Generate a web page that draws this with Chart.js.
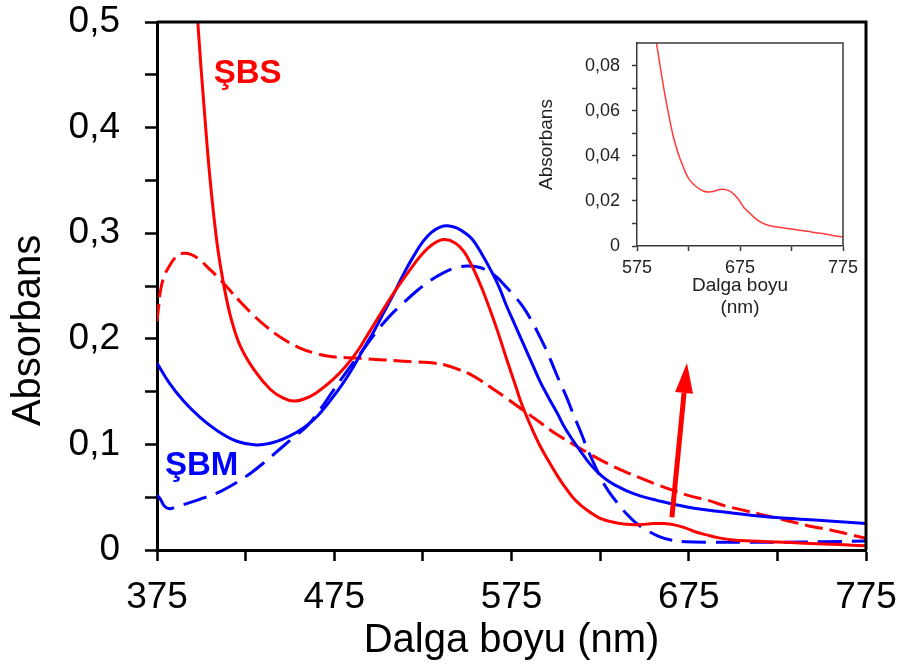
<!DOCTYPE html>
<html>
<head>
<meta charset="utf-8">
<script src="https://cdn.jsdelivr.net/npm/chart.js@4.4.1/dist/chart.umd.min.js"></script>
<style>
  body { margin: 0; background: #fff; }
  #wrap { position: relative; width: 904px; height: 667px; }
  #main { position: absolute; left: 0; top: 0; }
  #inset { position: absolute; left: 520px; top: 30px; }
</style>
</head>
<body>
<div id="wrap">
  <canvas id="main" width="904" height="667"></canvas>
  <canvas id="inset" width="340" height="300"></canvas>
</div>
<script>
// ŞBS (solid red)
var sbsNm  = [385, 392, 398, 402, 405, 409, 413, 417, 422, 430, 439, 446, 452, 458, 465, 474, 481, 488, 495, 502,
              510, 518, 525, 531, 537, 543, 548, 553, 558, 563, 568, 572, 577, 581, 586, 591, 596, 601, 605, 610,
              615, 620, 625, 632, 640, 647, 655, 661, 667, 673, 679, 685, 692, 700, 710, 725, 740, 755, 765, 775];
var sbsAbs = [1.0, 0.66, 0.5, 0.41, 0.35, 0.289, 0.248, 0.218, 0.193, 0.17, 0.152, 0.144, 0.141, 0.143, 0.149, 0.161, 0.173, 0.188, 0.207, 0.226,
              0.247, 0.266, 0.281, 0.29, 0.294, 0.291, 0.283, 0.268, 0.249, 0.227, 0.203, 0.182, 0.157, 0.137, 0.117, 0.099, 0.084, 0.07, 0.06, 0.049,
              0.041, 0.035, 0.03, 0.0265, 0.0243, 0.024, 0.025, 0.025, 0.0238, 0.021, 0.017, 0.0143, 0.0115, 0.0095, 0.0085, 0.0075, 0.0065, 0.0055, 0.0047, 0.004];

// ŞBS second spectrum (dashed red)
var sbs2Nm  = [375, 376, 377, 379, 382, 386, 390, 394, 399, 404, 409, 415, 422, 429, 437, 446, 456, 465, 474, 484,
               494, 503, 512, 522, 531, 538, 545, 551, 558, 565, 572, 581, 591, 600, 610, 619, 629, 638, 648, 657,
               667, 676, 686, 695, 705, 715, 725, 735, 745, 755, 765, 775];
var sbs2Abs = [0.216, 0.232, 0.246, 0.259, 0.269, 0.278, 0.281, 0.28, 0.275, 0.267, 0.259, 0.248, 0.235, 0.223, 0.211, 0.2, 0.191, 0.186, 0.183, 0.182,
               0.181, 0.18, 0.179, 0.178, 0.177, 0.175, 0.171, 0.167, 0.16, 0.152, 0.144, 0.133, 0.121, 0.11, 0.1, 0.091, 0.082, 0.075, 0.068, 0.062,
               0.056, 0.051, 0.047, 0.042, 0.038, 0.034, 0.03, 0.026, 0.022, 0.019, 0.015, 0.011];

// ŞBM (solid blue)
var sbmNm  = [375, 382, 390, 399, 409, 420, 431, 441, 450, 458, 465, 473, 480, 486, 491, 497, 503, 509, 514, 520,
              525, 530, 535, 539, 544, 549, 553, 558, 563, 568, 572, 577, 582, 587, 591, 596, 601, 605, 610, 615,
              619, 624, 629, 634, 640, 648, 657, 667, 680, 695, 710, 730, 750, 775];
var sbmAbs = [0.177, 0.158, 0.141, 0.126, 0.113, 0.103, 0.0995, 0.102, 0.108, 0.116, 0.126, 0.142, 0.158, 0.174, 0.189, 0.206, 0.225, 0.244, 0.261, 0.279,
              0.292, 0.301, 0.306, 0.307, 0.305, 0.3, 0.294, 0.281, 0.266, 0.249, 0.232, 0.213, 0.194, 0.175, 0.16, 0.144, 0.129, 0.116, 0.103, 0.091,
              0.082, 0.073, 0.066, 0.061, 0.056, 0.051, 0.047, 0.043, 0.039, 0.036, 0.033, 0.03, 0.028, 0.025];

// ŞBM second spectrum (dashed blue)
var sbm2Nm  = [375, 377, 379, 382, 386, 390, 399, 409, 418, 428, 437, 446, 453, 460, 467, 474, 482, 491, 498, 506,
               514, 522, 529, 536, 543, 550, 556, 562, 567, 572, 577, 582, 587, 591, 595, 599, 602, 606, 610, 614,
               618, 622, 626, 630, 635, 640, 645, 651, 658, 665, 673, 690, 710, 730, 750, 775];
var sbm2Abs = [0.052, 0.048, 0.042, 0.039, 0.041, 0.043, 0.048, 0.054, 0.062, 0.073, 0.085, 0.098, 0.108, 0.118, 0.133, 0.15, 0.169, 0.189, 0.205, 0.221,
               0.234, 0.246, 0.255, 0.262, 0.267, 0.269, 0.268, 0.264, 0.258, 0.249, 0.24, 0.229, 0.215, 0.202, 0.188, 0.172, 0.16, 0.145, 0.128, 0.112,
               0.095, 0.08, 0.066, 0.055, 0.044, 0.034, 0.026, 0.019, 0.013, 0.0095, 0.0078, 0.0074, 0.0074, 0.0074, 0.0078, 0.0085];

var xTicks      = [375, 425, 475, 525, 575, 625, 675, 725, 775];
var yTicks      = [0, 0.05, 0.1, 0.15, 0.2, 0.25, 0.3, 0.35, 0.4, 0.45, 0.5];
var insetXTicks = [575, 625, 675, 725, 775];
var insetYTicks = [0, 0.01, 0.02, 0.03, 0.04, 0.05, 0.06, 0.07, 0.08];

function pts(xs, ys){
  return xs.map(function(x, i){ return {x: x, y: ys[i]}; });
}
function comma(v, d){
  if (Math.abs(v) < 1e-9) return '0';
  return v.toFixed(d).replace('.', ',');
}
// fixed axis sizes, no extra room for overhanging labels
function fitX(h){
  return function(s){ s.height = h; s.paddingLeft = 0; s.paddingRight = 0; };
}
function fitY(w){
  return function(s){ s.width = w; s.paddingTop = 0; s.paddingBottom = 0; };
}

Chart.defaults.font.family = "'Liberation Sans', Arial, sans-serif";
Chart.defaults.color = '#000';

// draws the missing top/right sides of the plot box
var frame = {
  id: 'frame',
  afterDatasetsDraw: function(chart, args, opts){
    var a = chart.chartArea, ctx = chart.ctx;
    ctx.save();
    ctx.strokeStyle = opts.color;
    ctx.lineWidth = opts.width;
    ctx.beginPath();
    ctx.moveTo(a.left, a.top);
    ctx.lineTo(a.right, a.top);
    ctx.lineTo(a.right, a.bottom);
    ctx.stroke();
    ctx.restore();
  }
};

// series labels and the arrow
var marks = {
  id: 'marks',
  afterDatasetsDraw: function(chart){
    var ctx = chart.ctx, x = chart.scales.x, y = chart.scales.y;
    ctx.save();
    ctx.font = "bold 33px 'Liberation Sans', Arial, sans-serif";
    ctx.textBaseline = 'alphabetic';
    ctx.fillStyle = '#ff0000';
    ctx.fillText('ŞBS', x.getPixelForValue(407), y.getPixelForValue(0.442));
    ctx.fillStyle = '#0000ff';
    ctx.fillText('ŞBM', x.getPixelForValue(379.5), y.getPixelForValue(0.071));

    var x0 = x.getPixelForValue(665.5), y0 = y.getPixelForValue(0.031);
    var x1 = x.getPixelForValue(674), y1 = y.getPixelForValue(0.177);
    var ang = Math.atan2(y1 - y0, x1 - x0);
    var headLen = 30, headW = 9;
    var bx = x1 - headLen * Math.cos(ang), by = y1 - headLen * Math.sin(ang);
    ctx.strokeStyle = '#ff0000';
    ctx.fillStyle = '#ff0000';
    ctx.lineWidth = 5;
    ctx.beginPath();
    ctx.moveTo(x0, y0);
    ctx.lineTo(bx, by);
    ctx.stroke();
    ctx.beginPath();
    ctx.moveTo(x1, y1);
    ctx.lineTo(bx + headW * Math.sin(ang), by - headW * Math.cos(ang));
    ctx.lineTo(bx - headW * Math.sin(ang), by + headW * Math.cos(ang));
    ctx.closePath();
    ctx.fill();
    ctx.restore();
  }
};

var mainChart = new Chart(document.getElementById('main'), {
  type: 'line',
  data: {
    datasets: [
      { label: 'ŞBS', data: pts(sbsNm, sbsAbs), borderColor: '#ff0000', borderWidth: 3 },
      { label: 'ŞBM', data: pts(sbmNm, sbmAbs), borderColor: '#0000ff', borderWidth: 3 },
      { label: 'ŞBS (2)', data: pts(sbs2Nm, sbs2Abs), borderColor: '#ff0000', borderWidth: 3, borderDash: [18, 7] },
      { label: 'ŞBM (2)', data: pts(sbm2Nm, sbm2Abs), borderColor: '#0000ff', borderWidth: 3, borderDash: [24, 10] }
    ]
  },
  options: {
    responsive: false,
    animation: false,
    events: [],
    layout: { padding: { top: 22, right: 38, left: 0, bottom: 0 } },
    elements: {
      point: { radius: 0 },
      line: { tension: 0.4, fill: false }
    },
    plugins: {
      legend: { display: false },
      tooltip: { enabled: false },
      frame: { color: '#000', width: 3 }
    },
    scales: {
      x: {
        type: 'linear',
        min: 375,
        max: 775,
        afterBuildTicks: function(s){ s.ticks = xTicks.map(function(v){ return {value: v}; }); },
        afterFit: fitX(117),
        ticks: {
          autoSkip: false,
          maxRotation: 0,
          padding: 15,
          font: { size: 37 },
          callback: function(v){ return (v - 375) % 100 === 0 ? String(v) : ''; }
        },
        grid: { drawOnChartArea: false, tickLength: 11, tickWidth: 2.5, tickColor: '#000' },
        border: { color: '#000', width: 3 },
        title: { display: true, text: 'Dalga boyu (nm)', font: { size: 40 }, padding: { top: 0, bottom: 2 } }
      },
      y: {
        min: 0,
        max: 0.5,
        afterBuildTicks: function(s){ s.ticks = yTicks.map(function(v){ return {value: v}; }); },
        afterFit: fitY(157),
        ticks: {
          autoSkip: false,
          padding: 25,
          font: { size: 37 },
          callback: function(v){ return Math.round(v * 100) % 10 === 0 ? comma(v, 1) : ''; }
        },
        grid: { drawOnChartArea: false, tickLength: 12, tickWidth: 2.5, tickColor: '#000' },
        border: { color: '#000', width: 3 },
        title: { display: true, text: 'Absorbans        ', font: { size: 40 }, padding: { top: 5, bottom: 0 } }
      }
    }
  },
  plugins: [frame, marks]
});

var insetChart = new Chart(document.getElementById('inset'), {
  type: 'line',
  data: {
    datasets: [
      { label: 'ŞBS', data: pts(sbsNm, sbsAbs), borderColor: '#ff3b3b', borderWidth: 1.5 }
    ]
  },
  options: {
    responsive: false,
    animation: false,
    events: [],
    layout: { padding: { top: 13, right: 17, left: 0, bottom: 0 } },
    elements: {
      point: { radius: 0 },
      line: { tension: 0.4, fill: false }
    },
    plugins: {
      legend: { display: false },
      tooltip: { enabled: false },
      frame: { color: '#3a3a3a', width: 1.5 }
    },
    scales: {
      x: {
        type: 'linear',
        min: 575,
        max: 775,
        afterBuildTicks: function(s){ s.ticks = insetXTicks.map(function(v){ return {value: v}; }); },
        afterFit: fitX(84),
        ticks: {
          autoSkip: false,
          maxRotation: 0,
          padding: 6,
          color: '#222',
          font: { size: 18 },
          callback: function(v){ return (v - 575) % 100 === 0 ? String(v) : ''; }
        },
        grid: { drawOnChartArea: false, tickLength: 5, tickWidth: 1.5, tickColor: '#3a3a3a' },
        border: { color: '#3a3a3a', width: 1.5 },
        title: { display: true, text: ['Dalga boyu', '(nm)'], color: '#222', font: { size: 19, lineHeight: 1.15 }, padding: { top: 0, bottom: 11 } }
      },
      y: {
        min: 0,
        max: 0.09,
        afterBuildTicks: function(s){ s.ticks = insetYTicks.map(function(v){ return {value: v}; }); },
        afterFit: fitY(117),
        ticks: {
          autoSkip: false,
          padding: 12,
          color: '#222',
          font: { size: 18 },
          callback: function(v){ return Math.round(v * 100) % 2 === 0 ? comma(v, 2) : ''; }
        },
        grid: { drawOnChartArea: false, tickLength: 5, tickWidth: 1.5, tickColor: '#3a3a3a' },
        border: { color: '#3a3a3a', width: 1.5 },
        title: { display: true, text: 'Absorbans', color: '#222', font: { size: 19 }, padding: { top: 15, bottom: 0 } }
      }
    }
  },
  plugins: [frame]
});
</script>
</body>
</html>
